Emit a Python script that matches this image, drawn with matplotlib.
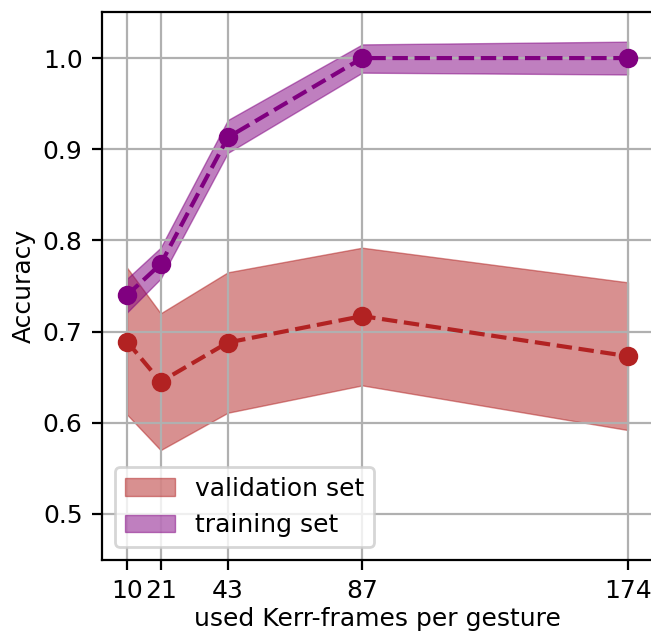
import numpy as np
import matplotlib
matplotlib.use("Agg")
import matplotlib.pyplot as plt

plt.rcParams["font.size"] = 9

frames = [10, 21, 43, 87, 174]

val_mean = [0.689, 0.645, 0.688, 0.717, 0.673]
val_low = [0.609, 0.570, 0.611, 0.641, 0.592]
val_high = [0.770, 0.720, 0.765, 0.792, 0.754]

train_mean = [0.740, 0.774, 0.913, 1.000, 1.000]
train_low = [0.721, 0.758, 0.896, 0.984, 0.982]
train_high = [0.758, 0.792, 0.932, 1.015, 1.018]

fig = plt.figure(figsize=(6.51 / 2, 6.34 / 2), dpi=200)
# the right edge of the axes falls just outside the saved picture
ax = fig.add_axes([0.1567, 0.1175, 0.8464, 0.8628])

ax.fill_between(frames, val_low, val_high, color="firebrick", alpha=0.5,
                linewidth=0.5, label="validation set")
ax.plot(frames, val_mean, "o--", color="firebrick")
ax.fill_between(frames, train_low, train_high, color="purple", alpha=0.5,
                linewidth=0.5, label="training set")
ax.plot(frames, train_mean, "o--", color="purple")

ax.set_xticks(frames)
ax.set_yticks([0.5, 0.6, 0.7, 0.8, 0.9, 1.0])
ax.set_ylim(0.45, 1.05)
ax.grid(True)
ax.set_xlabel("used Kerr-frames per gesture", labelpad=1.5)
ax.set_ylabel("Accuracy", labelpad=2.5)
ax.legend(loc="lower left")

fig.savefig("out.png", dpi=200)
